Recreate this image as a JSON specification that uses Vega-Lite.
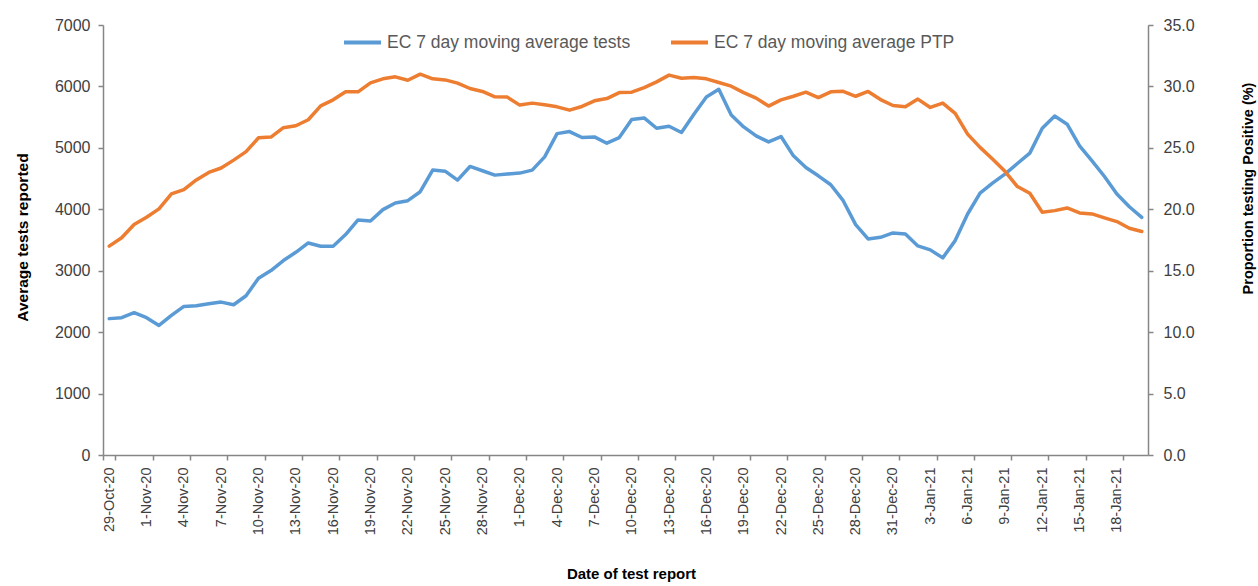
{
  "$schema": "https://vega.github.io/schema/vega-lite/v6.json",
  "autosize": "none",
  "width": 1045,
  "height": 430,
  "padding": {"left": 103, "top": 25, "right": 110, "bottom": 131},
  "background": "white",
  "config": {
    "font": "Liberation Sans",
    "view": {"stroke": null},
    "axis": {"grid": false, "domainColor": "#868686", "domainWidth": 1.5, "tickColor": "#868686", "tickWidth": 1.5, "labelColor": "#404040", "titleColor": "#000000", "labelFont": "Liberation Sans", "titleFont": "Liberation Sans"}
  },
  "data": {"values": [
    {"date":"29-Oct-20","tests":2220,"ptp":17.0},
    {"date":"30-Oct-20","tests":2235,"ptp":17.68},
    {"date":"31-Oct-20","tests":2316,"ptp":18.76},
    {"date":"1-Nov-20","tests":2235,"ptp":19.35},
    {"date":"2-Nov-20","tests":2110,"ptp":20.03},
    {"date":"3-Nov-20","tests":2273,"ptp":21.25},
    {"date":"4-Nov-20","tests":2419,"ptp":21.6},
    {"date":"5-Nov-20","tests":2430,"ptp":22.39},
    {"date":"6-Nov-20","tests":2462,"ptp":23.0},
    {"date":"7-Nov-20","tests":2489,"ptp":23.36},
    {"date":"8-Nov-20","tests":2446,"ptp":24.0},
    {"date":"9-Nov-20","tests":2592,"ptp":24.69},
    {"date":"10-Nov-20","tests":2878,"ptp":25.82},
    {"date":"11-Nov-20","tests":3003,"ptp":25.88},
    {"date":"12-Nov-20","tests":3166,"ptp":26.64},
    {"date":"13-Nov-20","tests":3300,"ptp":26.8},
    {"date":"14-Nov-20","tests":3452,"ptp":27.29},
    {"date":"15-Nov-20","tests":3398,"ptp":28.42},
    {"date":"16-Nov-20","tests":3398,"ptp":28.91},
    {"date":"17-Nov-20","tests":3588,"ptp":29.56},
    {"date":"18-Nov-20","tests":3826,"ptp":29.56},
    {"date":"19-Nov-20","tests":3810,"ptp":30.29},
    {"date":"20-Nov-20","tests":3994,"ptp":30.62},
    {"date":"21-Nov-20","tests":4102,"ptp":30.78},
    {"date":"22-Nov-20","tests":4140,"ptp":30.5},
    {"date":"23-Nov-20","tests":4286,"ptp":31.0},
    {"date":"24-Nov-20","tests":4638,"ptp":30.62},
    {"date":"25-Nov-20","tests":4621,"ptp":30.53},
    {"date":"26-Nov-20","tests":4475,"ptp":30.27},
    {"date":"27-Nov-20","tests":4697,"ptp":29.83},
    {"date":"28-Nov-20","tests":4627,"ptp":29.59},
    {"date":"29-Nov-20","tests":4556,"ptp":29.15},
    {"date":"30-Nov-20","tests":4573,"ptp":29.13},
    {"date":"1-Dec-20","tests":4589,"ptp":28.48},
    {"date":"2-Dec-20","tests":4638,"ptp":28.64},
    {"date":"3-Dec-20","tests":4854,"ptp":28.5},
    {"date":"4-Dec-20","tests":5232,"ptp":28.34},
    {"date":"5-Dec-20","tests":5265,"ptp":28.07},
    {"date":"6-Dec-20","tests":5168,"ptp":28.37},
    {"date":"7-Dec-20","tests":5178,"ptp":28.83},
    {"date":"8-Dec-20","tests":5076,"ptp":29.01},
    {"date":"9-Dec-20","tests":5168,"ptp":29.5},
    {"date":"10-Dec-20","tests":5460,"ptp":29.53},
    {"date":"11-Dec-20","tests":5487,"ptp":29.91},
    {"date":"12-Dec-20","tests":5319,"ptp":30.37},
    {"date":"13-Dec-20","tests":5352,"ptp":30.92},
    {"date":"14-Dec-20","tests":5249,"ptp":30.67},
    {"date":"15-Dec-20","tests":5547,"ptp":30.72},
    {"date":"16-Dec-20","tests":5828,"ptp":30.62},
    {"date":"17-Dec-20","tests":5953,"ptp":30.32},
    {"date":"18-Dec-20","tests":5536,"ptp":30.02},
    {"date":"19-Dec-20","tests":5341,"ptp":29.5},
    {"date":"20-Dec-20","tests":5195,"ptp":29.05},
    {"date":"21-Dec-20","tests":5097,"ptp":28.4},
    {"date":"22-Dec-20","tests":5184,"ptp":28.91},
    {"date":"23-Dec-20","tests":4870,"ptp":29.2},
    {"date":"24-Dec-20","tests":4680,"ptp":29.53},
    {"date":"25-Dec-20","tests":4545,"ptp":29.09},
    {"date":"26-Dec-20","tests":4399,"ptp":29.56},
    {"date":"27-Dec-20","tests":4140,"ptp":29.6},
    {"date":"28-Dec-20","tests":3750,"ptp":29.2},
    {"date":"29-Dec-20","tests":3517,"ptp":29.59},
    {"date":"30-Dec-20","tests":3544,"ptp":28.93},
    {"date":"31-Dec-20","tests":3615,"ptp":28.45},
    {"date":"1-Jan-21","tests":3598,"ptp":28.34},
    {"date":"2-Jan-21","tests":3404,"ptp":28.97},
    {"date":"3-Jan-21","tests":3339,"ptp":28.29},
    {"date":"4-Jan-21","tests":3209,"ptp":28.64},
    {"date":"5-Jan-21","tests":3490,"ptp":27.8},
    {"date":"6-Jan-21","tests":3923,"ptp":26.12},
    {"date":"7-Jan-21","tests":4264,"ptp":25.04},
    {"date":"8-Jan-21","tests":4427,"ptp":24.1},
    {"date":"9-Jan-21","tests":4573,"ptp":23.09},
    {"date":"10-Jan-21","tests":4745,"ptp":21.85},
    {"date":"11-Jan-21","tests":4914,"ptp":21.3},
    {"date":"12-Jan-21","tests":5319,"ptp":19.76},
    {"date":"13-Jan-21","tests":5519,"ptp":19.89},
    {"date":"14-Jan-21","tests":5385,"ptp":20.11},
    {"date":"15-Jan-21","tests":5032,"ptp":19.7},
    {"date":"16-Jan-21","tests":4789,"ptp":19.62},
    {"date":"17-Jan-21","tests":4534,"ptp":19.3},
    {"date":"18-Jan-21","tests":4248,"ptp":19.0},
    {"date":"19-Jan-21","tests":4042,"ptp":18.46},
    {"date":"20-Jan-21","tests":3869,"ptp":18.19}
  ]},
  "encoding": {
    "x": {
      "field": "date", "type": "ordinal", "sort": null, "bandPosition": 0.5,
      "scale": {"type": "band", "paddingInner": 0, "paddingOuter": 0},
      "axis": {
        "title": "Date of test report", "titleFontSize": 15, "titleFontWeight": "bold",
        "titleX": 528, "titleY": 118, "titleBaseline": "middle", "titleAlign": "center",
        "values": ["29-Oct-20","1-Nov-20","4-Nov-20","7-Nov-20","10-Nov-20","13-Nov-20","16-Nov-20","19-Nov-20","22-Nov-20","25-Nov-20","28-Nov-20","1-Dec-20","4-Dec-20","7-Dec-20","10-Dec-20","13-Dec-20","16-Dec-20","19-Dec-20","22-Dec-20","25-Dec-20","28-Dec-20","31-Dec-20","3-Jan-21","6-Jan-21","9-Jan-21","12-Jan-21","15-Jan-21","18-Jan-21"],
        "labelAngle": -90, "labelAlign": "right", "labelBaseline": "middle",
        "labelFontSize": 14.5, "labelPadding": 7, "tickSize": 5, "tickBand": "extent",
        "labelOverlap": false, "labelFlush": false, "labelBound": false
      }
    }
  },
  "layer": [
    {
      "mark": {"type": "line", "strokeWidth": 3.5, "strokeCap": "round", "strokeJoin": "round"},
      "encoding": {
        "y": {
          "field": "tests", "type": "quantitative",
          "scale": {"domain": [0, 7000], "nice": false},
          "axis": {
            "orient": "left", "title": "Average tests reported", "titleFontSize": 15.5, "titleFontWeight": "bold",
            "titleX": -81, "titleY": 212, "titleAngle": -90, "titleAlign": "center", "titleBaseline": "middle",
            "values": [0, 1000, 2000, 3000, 4000, 5000, 6000, 7000], "format": "d",
            "labelFontSize": 16, "labelPadding": 8, "tickSize": 5
          }
        },
        "color": {"datum": "EC 7 day moving average tests"}
      }
    },
    {
      "mark": {"type": "line", "strokeWidth": 3.5, "strokeCap": "round", "strokeJoin": "round"},
      "encoding": {
        "y": {
          "field": "ptp", "type": "quantitative",
          "scale": {"domain": [0, 35], "nice": false},
          "axis": {
            "orient": "right", "title": "Proportion testing Positive (%)", "titleFontSize": 14.5, "titleFontWeight": "bold",
            "titleX": 100, "titleY": 163, "titleAngle": -90, "titleAlign": "center", "titleBaseline": "middle",
            "values": [0, 5, 10, 15, 20, 25, 30, 35], "format": ".1f",
            "labelFontSize": 16, "labelPadding": 10, "tickSize": 5
          }
        },
        "color": {
          "datum": "EC 7 day moving average PTP",
          "scale": {"domain": ["EC 7 day moving average tests", "EC 7 day moving average PTP"], "range": ["#5B9BD5", "#ED7D31"]},
          "legend": {
            "title": null, "orient": "none", "direction": "horizontal", "columns": 2,
            "legendX": 239, "legendY": -3, "padding": 0,
            "symbolType": "stroke", "symbolSize": 1369, "symbolStrokeWidth": 4,
            "labelFontSize": 17.5, "labelColor": "#595959", "labelOffset": 4, "labelLimit": 400,
            "columnPadding": 32
          }
        }
      }
    }
  ],
  "resolve": {"scale": {"y": "independent"}}
}
